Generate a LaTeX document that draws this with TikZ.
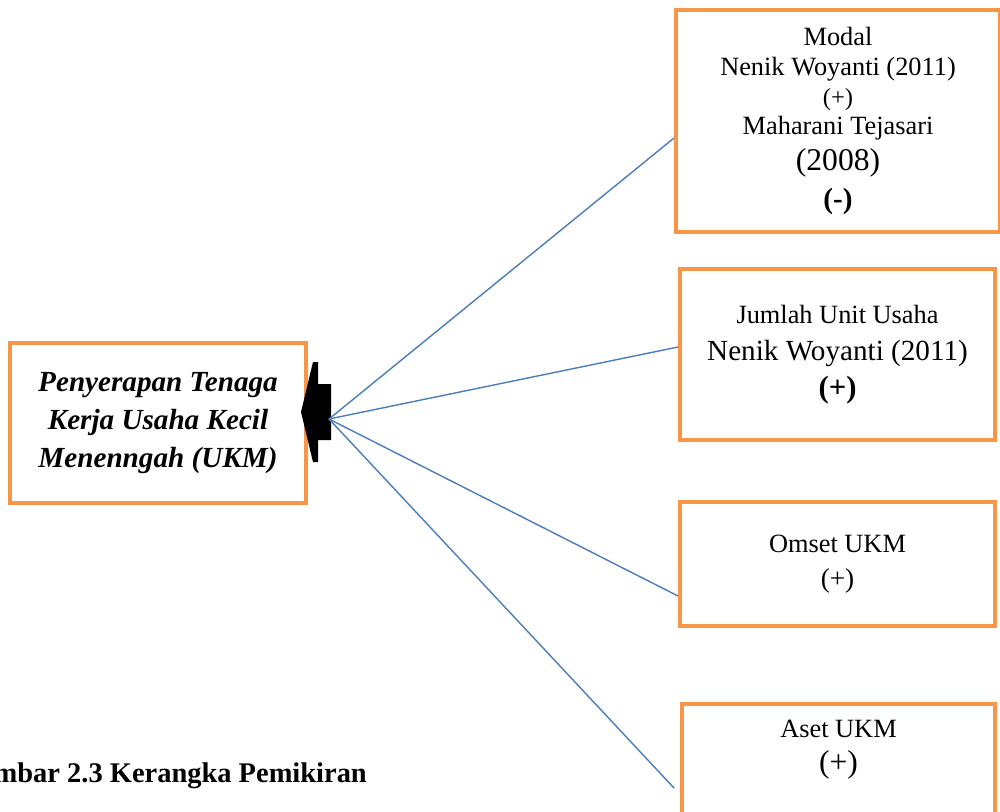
\documentclass[tikz,border=0pt]{standalone}
\usepackage{fontspec}
\setmainfont{Liberation Serif}
\usetikzlibrary{calc,positioning}

\definecolor{boxorange}{HTML}{F79646}
\definecolor{linkblue}{HTML}{4A7EBB}

\tikzset{
	box/.style={draw=boxorange, line width=2.3pt, align=center, inner sep=0pt},
	link/.style={draw=linkblue, line width=0.8pt}
}

\begin{document}
\begin{tikzpicture}[x=0.02cm, y=-0.02cm]
	\useasboundingbox (0, 0) rectangle (1000, 811);
	\clip (0, 0) rectangle (1000, 811);

	% dependent variable
	\node[box, minimum width=5.92cm, minimum height=3.2cm,
		font=\fontsize{16.6}{21.5}\selectfont\bfseries\itshape] (ukm) at (158, 423)
		{Penyerapan Tenaga\\Kerja Usaha Kecil\\Menenngah (UKM)};

	% independent variables
	\node[box, minimum width=6.48cm, minimum height=4.44cm,
		font=\fontsize{15}{17}\selectfont] (modal) at (838, 121)
		{Modal\\Nenik Woyanti (2011)\\{\fontsize{14}{17}\selectfont (+)}\\Maharani Tejasari\\[3pt]
		{\fontsize{18}{17}\selectfont (2008)}\\[5pt]{\fontsize{16.6}{17}\selectfont\bfseries (-)}};
	\node[box, minimum width=6.3cm, minimum height=3.42cm,
		font=\fontsize{15}{21}\selectfont] (unit) at (837.5, 354.5)
		{Jumlah Unit Usaha\\{\fontsize{16.6}{21}\selectfont Nenik Woyanti (2011)}\\
		{\fontsize{17.5}{21}\selectfont\bfseries (+)}};
	\node[box, minimum width=6.3cm, minimum height=2.48cm,
		font=\fontsize{15}{20}\selectfont] (omset) at (837.5, 564)
		{Omset UKM\\{\fontsize{15.5}{20}\selectfont (+)}};
	\node[box, minimum width=6.26cm, minimum height=3cm, anchor=north] (aset) at (838.5, 702) {};
	\node[align=center, font=\fontsize{15}{20}\selectfont] (asettext) at ($(aset.north)+(0, 48)$)
		{Aset UKM\\{\fontsize{18}{20}\selectfont (+)}};

	% block arrow
	\fill[black] (301, 412) -- (313, 362) -- (318, 362) -- (318, 384) -- (331, 384)
		-- (331, 440) -- (318, 440) -- (318, 462) -- (313, 462) -- cycle;
	\coordinate (hub) at (329, 419);

	% connectors
	\foreach \b/\dx/\dy in {modal/0/130, unit/0/80, omset/0/96, aset/-6/86}
		\draw[link] (hub) -- ($(\b.north west)+(\dx, \dy)$);

	% caption
	\node[anchor=base east, font=\fontsize{16.2}{20}\selectfont\bfseries] (judul) at (373, 782)
		{Gambar 2.3 Kerangka Pemikiran};
\end{tikzpicture}
\end{document}
